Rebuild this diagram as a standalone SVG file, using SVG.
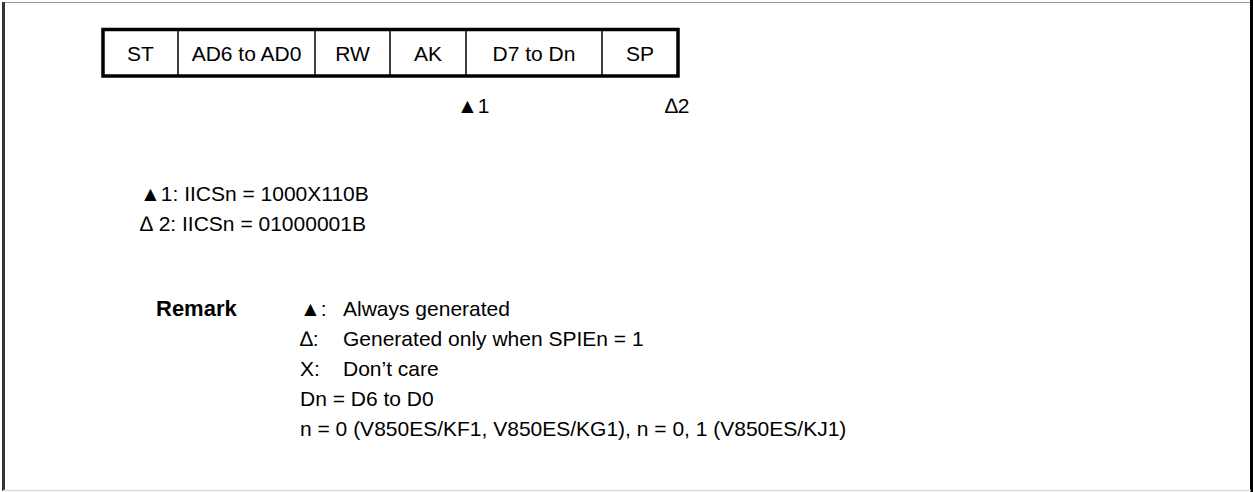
<svg xmlns="http://www.w3.org/2000/svg" width="1253" height="492" viewBox="0 0 1253 492">
<style>
text{font-family:"Liberation Sans",Arial,Helvetica,sans-serif;font-size:21px;fill:#000}
.c{text-anchor:middle}
.b{font-weight:bold;font-size:22px}
.div{stroke:#000;stroke-width:1.5}
</style>
<rect width="1253" height="492" fill="#fff"/>
<g id="frame">
<line x1="2" y1="2.5" x2="1251" y2="2.5" stroke="#999" stroke-width="1"/>
<line x1="3.5" y1="2" x2="3.5" y2="491" stroke="#333" stroke-width="3"/>
<line x1="1251.5" y1="0" x2="1251.5" y2="492" stroke="#000" stroke-width="3"/>
<line x1="3" y1="490.5" x2="1251" y2="490.5" stroke="#ddd" stroke-width="1.5"/>
</g>
<g id="table">
<rect x="103" y="29.5" width="575" height="46.5" fill="none" stroke="#000" stroke-width="3.5"/>
<line class="div" x1="178" y1="29" x2="178" y2="76"/>
<line class="div" x1="315" y1="29" x2="315" y2="76"/>
<line class="div" x1="390" y1="29" x2="390" y2="76"/>
<line class="div" x1="466" y1="29" x2="466" y2="76"/>
<line class="div" x1="602" y1="29" x2="602" y2="76"/>
<text class="c" x="140.5" y="61">ST</text>
<text class="c" x="246.5" y="61">AD6 to AD0</text>
<text class="c" x="352.5" y="61">RW</text>
<text class="c" x="428" y="61">AK</text>
<text class="c" x="534" y="61">D7 to Dn</text>
<text class="c" x="640" y="61">SP</text>
</g>
<g id="markers">
<text x="457" y="113">▲1</text>
<text x="665" y="113">∆2</text>
</g>
<g id="conditions">
<text x="140" y="201">▲1: IICSn = 1000X110B</text>
<text x="140" y="231">∆ 2: IICSn = 01000001B</text>
</g>
<g id="remark">
<text class="b" x="156" y="316">Remark</text>
<text x="300" y="316">▲:</text>
<text x="343" y="316">Always generated</text>
<text x="300" y="346">∆:</text>
<text x="343" y="346">Generated only when SPIEn = 1</text>
<text x="300" y="376">X:</text>
<text x="343" y="376">Don’t care</text>
<text x="300" y="406">Dn = D6 to D0</text>
<text x="300" y="436">n = 0 (V850ES/KF1, V850ES/KG1), n = 0, 1 (V850ES/KJ1)</text>
</g>
</svg>
